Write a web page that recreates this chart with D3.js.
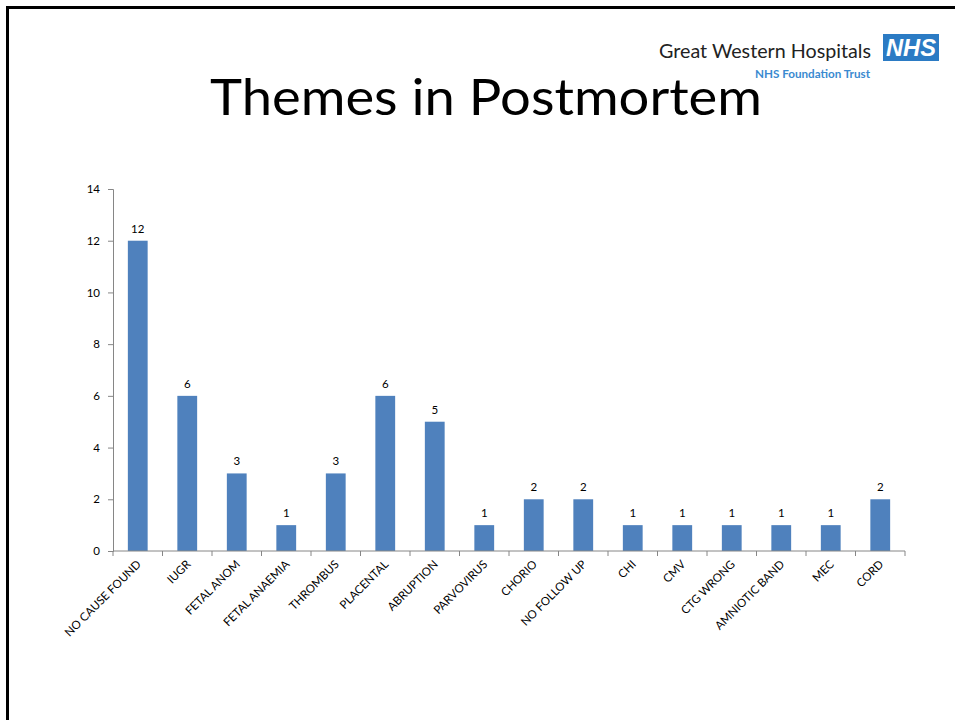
<!DOCTYPE html>
<html>
<head>
<meta charset="utf-8">
<script src="https://cdn.jsdelivr.net/npm/d3@7/dist/d3.min.js"></script>
<style>
  html, body { margin: 0; padding: 0; background: #fff; }
  svg { display: block; }
</style>
</head>
<body>
<svg id="chart" width="955" height="720"></svg>
<script>
// Postmortem themes and their counts
const categories = ["NO CAUSE FOUND", "IUGR", "FETAL ANOM", "FETAL ANAEMIA", "THROMBUS",
  "PLACENTAL", "ABRUPTION", "PARVOVIRUS", "CHORIO", "NO FOLLOW UP", "CHI", "CMV",
  "CTG WRONG", "AMNIOTIC BAND", "MEC", "CORD"];
const counts = [12, 6, 3, 1, 3, 6, 5, 1, 2, 2, 1, 1, 1, 1, 1, 2];
const yTicks = [0, 2, 4, 6, 8, 10, 12, 14];

const font = "Lato, 'Open Sans', 'Liberation Sans', sans-serif";
const svg = d3.select("#chart");

// slide frame (top and left edges)
svg.append("path")
  .attr("d", "M7.5,720 L7.5,7.5 L955,7.5")
  .attr("fill", "none").attr("stroke", "#000").attr("stroke-width", 3);

// trust logo
const logo = svg.append("g");
logo.append("text").attr("x", 659).attr("y", 58)
  .attr("font-family", font).attr("font-size", 19).attr("fill", "#222")
  .attr("textLength", 212).attr("lengthAdjust", "spacingAndGlyphs")
  .text("Great Western Hospitals");
logo.append("rect").attr("x", 883).attr("y", 34).attr("width", 56).attr("height", 27)
  .attr("fill", "#2b7bc4");
logo.append("text").attr("x", 911).attr("y", 56).attr("text-anchor", "middle")
  .attr("font-family", "'Liberation Sans', Arial, sans-serif").attr("font-weight", "bold")
  .attr("font-style", "italic").attr("font-size", 24).attr("fill", "#fff")
  .attr("textLength", 50).attr("lengthAdjust", "spacingAndGlyphs")
  .text("NHS");
logo.append("text").attr("x", 755).attr("y", 78)
  .attr("font-family", font).attr("font-size", 11).attr("font-weight", "bold")
  .attr("fill", "#3a8ad0")
  .attr("textLength", 115).attr("lengthAdjust", "spacingAndGlyphs")
  .text("NHS Foundation Trust");

// slide title
svg.append("text").attr("x", 210).attr("y", 115)
  .attr("font-family", font).attr("font-size", 50).attr("fill", "#000")
  .attr("textLength", 552).attr("lengthAdjust", "spacingAndGlyphs")
  .text("Themes in Postmortem");

// plot area
const plotLeft = 113, plotRight = 905, plotTop = 189, plotBottom = 551;
const x = d3.scaleBand().domain(categories).range([plotLeft, plotRight])
  .paddingInner(0.6).paddingOuter(0.3);
const xEdge = d3.scaleLinear().domain([0, categories.length]).range([plotLeft, plotRight]);
const y = d3.scaleLinear().domain([0, 14]).range([plotBottom, plotTop]);
const axisColor = "#868686";

// bars
svg.append("g").selectAll("rect").data(categories).join("rect")
  .attr("x", d => x(d))
  .attr("width", x.bandwidth())
  .attr("y", (d, i) => y(counts[i]))
  .attr("height", (d, i) => y(0) - y(counts[i]))
  .attr("fill", "#4f81bd");

// value labels
svg.append("g").selectAll("text").data(categories).join("text")
  .attr("x", d => x(d) + x.bandwidth() / 2)
  .attr("y", (d, i) => y(counts[i]) - 8)
  .attr("text-anchor", "middle")
  .attr("font-family", font).attr("font-size", 11.5).attr("fill", "#000")
  .text((d, i) => counts[i]);

// y axis
const yAxis = svg.append("g").attr("transform", `translate(${plotLeft},0)`)
  .call(d3.axisLeft(y).tickValues(yTicks).tickSize(5).tickPadding(8));
yAxis.select(".domain").attr("stroke", axisColor);
yAxis.selectAll(".tick line").attr("stroke", axisColor);
yAxis.selectAll(".tick text").attr("font-family", font).attr("font-size", 11.5).attr("fill", "#000");

// x axis: ticks on category boundaries
const xg = svg.append("g").attr("transform", `translate(0,${plotBottom})`);
xg.append("line").attr("x1", plotLeft).attr("x2", plotRight).attr("stroke", axisColor);
xg.selectAll("line.edge").data(d3.range(categories.length + 1)).join("line")
  .attr("class", "edge")
  .attr("x1", i => xEdge(i)).attr("x2", i => xEdge(i))
  .attr("y1", 0).attr("y2", 5).attr("stroke", axisColor);

// rotated category labels
xg.selectAll("text").data(categories).join("text")
  .attr("transform", d => `translate(${x(d) + x.bandwidth() / 2 + 4},${14}) rotate(-45)`)
  .attr("text-anchor", "end")
  .attr("font-family", font).attr("font-size", 11.5).attr("fill", "#000")
  .text(d => d);
</script>
</body>
</html>
